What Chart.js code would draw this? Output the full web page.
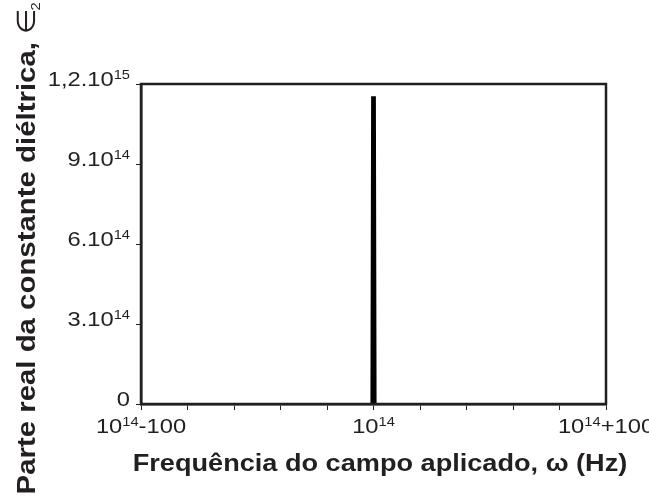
<!DOCTYPE html>
<html>
<head>
<meta charset="utf-8">
<script src="https://cdn.jsdelivr.net/npm/chart.js@4/dist/chart.umd.min.js"></script>
<style>
  html, body { margin: 0; padding: 0; background: #fff; }
  #wrap { width: 649px; height: 497px; }
</style>
</head>
<body>
<div id="wrap"><canvas id="myChart" width="649" height="497"></canvas></div>
<script>
// frequency offset from 10^14 Hz, and epsilon_2
const freqOffset = [-100, -0.9, -0.6, 0, 0.6, 0.9, 100];
const eps2 = [0, 0, 1.15e15, 1.15e15, 1.15e15, 0, 0];

// tick labels: [base, superscript, tail]
const xLabelValues = [-100, 0, 100];
const xLabelParts = [['10', '14', '-100'], ['10', '14', ''], ['10', '14', '+100']];
const yLabelValues = [0, 3e14, 6e14, 9e14, 1.2e15];
const yLabelParts = [['0', '', ''], ['3.10', '14', ''], ['6.10', '14', ''], ['9.10', '14', ''], ['1,2.10', '15', '']];

const xTitle = 'Frequência do campo aplicado, ω (Hz)';
const yTitle = 'Parte real da constante diéltrica, ';

const ink = '#231f20';
const stretch = 1.13;
const FONT = '"Liberation Sans", Arial, sans-serif';

function supWidth(ctx, parts, size, supSize) {
    ctx.font = size + 'px ' + FONT;
    let w = ctx.measureText(parts[0]).width + ctx.measureText(parts[2]).width;
    ctx.font = supSize + 'px ' + FONT;
    w += ctx.measureText(parts[1]).width;
    return w;
}

function drawSup(ctx, x, y, parts, align) {
    const size = 21, supSize = 13;
    const w = supWidth(ctx, parts, size, supSize) * stretch;
    let start = x;
    if (align === 'right') start = x - w;
    if (align === 'center') start = x - w / 2;
    ctx.save();
    ctx.translate(start, y);
    ctx.scale(stretch, 1);
    ctx.fillStyle = ink;
    ctx.textAlign = 'left';
    ctx.textBaseline = 'alphabetic';
    let cx = 0;
    ctx.font = size + 'px ' + FONT;
    ctx.fillText(parts[0], cx, 0);
    cx += ctx.measureText(parts[0]).width;
    ctx.font = supSize + 'px ' + FONT;
    ctx.fillText(parts[1], cx, -7);
    cx += ctx.measureText(parts[1]).width;
    ctx.font = size + 'px ' + FONT;
    ctx.fillText(parts[2], cx, 0);
    ctx.restore();
}

const textPlugin = {
    id: 'textPlugin',
    afterDraw(chart) {
        const ctx = chart.ctx;
        const xs = chart.scales.x, ys = chart.scales.y;
        const area = chart.chartArea;

        // frame on top and right
        ctx.save();
        ctx.strokeStyle = ink;
        ctx.lineWidth = 2.5;
        ctx.strokeRect(area.left, area.top, area.right - area.left, area.bottom - area.top);
        ctx.restore();

        xLabelValues.forEach(function (v, i) {
            drawSup(ctx, xs.getPixelForValue(v), area.bottom + 29, xLabelParts[i], 'center');
        });
        yLabelValues.forEach(function (v, i) {
            drawSup(ctx, area.left - 11, ys.getPixelForValue(v) + 2, yLabelParts[i], 'right');
        });

        // x title
        ctx.save();
        ctx.fillStyle = ink;
        ctx.font = 'bold 24px ' + FONT;
        ctx.textAlign = 'center';
        ctx.textBaseline = 'alphabetic';
        ctx.translate(380, 471);
        ctx.scale(stretch, 1);
        ctx.fillText(xTitle, 0, 0);
        ctx.restore();

        // y title, rotated
        ctx.save();
        ctx.fillStyle = ink;
        ctx.translate(35, 248);
        ctx.rotate(-Math.PI / 2);
        ctx.scale(stretch, 1);
        ctx.font = 'bold 26px ' + FONT;
        const w1 = ctx.measureText(yTitle).width;
        ctx.font = '26px "DejaVu Sans", ' + FONT;
        const w2 = ctx.measureText('∈').width;
        const total = w1 + w2 + 6;
        let cx = -total / 2;
        ctx.font = 'bold 26px ' + FONT;
        ctx.fillText(yTitle, cx, 0);
        cx += w1;
        ctx.font = '26px "DejaVu Sans", ' + FONT;
        ctx.fillText('∈', cx, 0);
        cx += w2;
        ctx.font = '13px ' + FONT;
        ctx.fillText('2', cx - 2, 5);
        ctx.restore();
    }
};

const data = freqOffset.map(function (f, i) {
    return { x: f, y: eps2[i] };
});

new Chart(document.getElementById('myChart'), {
    type: 'scatter',
    data: {
        datasets: [{
            data: data,
            showLine: true,
            borderColor: '#000',
            backgroundColor: '#000',
            borderWidth: 2,
            fill: 'origin',
            pointRadius: 0,
            tension: 0
        }]
    },
    options: {
        responsive: false,
        animation: false,
        layout: { padding: { left: 0, right: 43, top: 84, bottom: 0 } },
        plugins: {
            legend: { display: false },
            tooltip: { enabled: false }
        },
        scales: {
            x: {
                type: 'linear',
                min: -100,
                max: 100,
                afterFit: function (s) { s.height = 93; },
                ticks: { stepSize: 20, autoSkip: false, callback: function () { return ''; } },
                grid: { drawOnChartArea: false, drawTicks: true, tickLength: 6, color: ink, lineWidth: 1 },
                border: { display: true, color: ink, width: 2.5 }
            },
            y: {
                min: 0,
                max: 1.2e15,
                afterFit: function (s) { s.width = 141; },
                ticks: { stepSize: 3e14, callback: function () { return ''; } },
                grid: { drawOnChartArea: false, drawTicks: true, tickLength: 5, color: ink, lineWidth: 1 },
                border: { display: true, color: ink, width: 2.5 }
            }
        }
    },
    plugins: [textPlugin]
});
</script>
</body>
</html>
